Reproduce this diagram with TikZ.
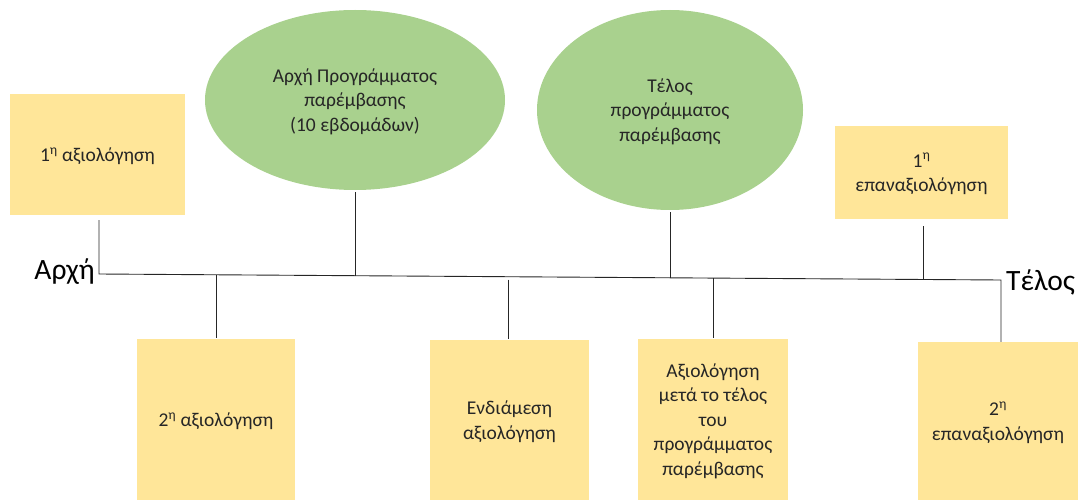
\documentclass[tikz,border=0pt]{standalone}
\usepackage{fontspec}
\setmainfont{Carlito}
\usetikzlibrary{shapes.geometric,calc}
\definecolor{boxyellow}{HTML}{FFE699}
\definecolor{ellgreen}{HTML}{A9D18E}
\definecolor{linegray}{HTML}{262626}
\tikzset{
  ybox/.style={rectangle, fill=boxyellow, draw=none, align=center, inner sep=2pt,
    font=\fontsize{19.5}{24.5}\selectfont, text=black!85, text depth=-4pt},
  gell/.style={ellipse, fill=ellgreen, draw=none, align=center, inner sep=0pt,
    font=\fontsize{19.5}{24.5}\selectfont, text=black!85, text depth=-3pt},
  conn/.style={draw=linegray, line width=0.9pt},
  endlabel/.style={font=\fontsize{29.5}{32}\selectfont, inner sep=0pt, text=black}
}
\begin{document}
\begin{tikzpicture}[x=1pt,y=-1pt]
\useasboundingbox (0,0) rectangle (1081,500);
% top boxes
\node[ybox, minimum width=175pt, minimum height=121pt] (b1) at (97.5,154.5) {1\textsuperscript{η} αξιολόγηση};
\node[ybox, minimum width=173pt, minimum height=93pt] (b1r) at (921.5,172.5) {1\textsuperscript{η}\\επαναξιολόγηση};
% ellipses
\node[gell, minimum width=300pt, minimum height=180pt] (e1) at (355,100) {Αρχή Προγράμματος\\παρέμβασης\\(10 εβδομάδων)};
\node[gell, minimum width=266pt, minimum height=200pt] (e2) at (670,110) {Τέλος\\προγράμματος\\παρέμβασης};
% bottom boxes
\node[ybox, minimum width=158pt, minimum height=161pt] (b2) at (216,419.5) {2\textsuperscript{η} αξιολόγηση};
\node[ybox, minimum width=159pt, minimum height=160pt] (bE) at (509.5,420) {Ενδιάμεση\\αξιολόγηση};
\node[ybox, minimum width=150pt, minimum height=161pt] (bM) at (713,419.5) {Αξιολόγηση\\μετά το τέλος\\του\\προγράμματος\\παρέμβασης};
\node[ybox, minimum width=160pt, minimum height=158pt] (b2r) at (998,421) {2\textsuperscript{η}\\επαναξιολόγηση};
% spine
\coordinate (A) at (99,274);
\coordinate (T) at (1001,280);
\node[endlabel, anchor=east] (lA) at (95,272) {Αρχή};
\node[endlabel, anchor=west] (lT) at (1006,282) {Τέλος};
\coordinate (j1) at (355,275.7);
\coordinate (j2) at (670,277.8);
\coordinate (j3) at (923,279.5);
\coordinate (k1) at (216,274.8);
\coordinate (k2) at (508,279.5);
\coordinate (k3) at (713,278.1);
\draw[conn, shorten <=5pt] (b1.south -| A) -- (A) -- (T) -- (T |- b2r.north);
\draw[conn, shorten <=2pt] (e1.south) -- (j1);
\draw[conn, shorten <=2pt] (e2.south) -- (j2);
\draw[conn, shorten <=7pt] (b1r.south -| j3) -- (j3);
\draw[conn, shorten >=1pt] (k1) -- (k1 |- b2.north);
\draw[conn, shorten >=1pt] (k2) -- (k2 |- bE.north);
\draw[conn, shorten >=1pt] (k3) -- (k3 |- bM.north);
\end{tikzpicture}
\end{document}
